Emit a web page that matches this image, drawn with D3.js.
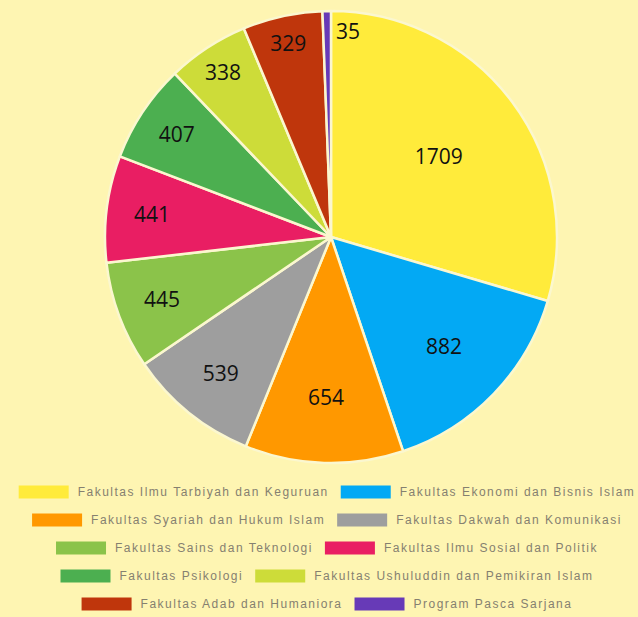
<!DOCTYPE html>
<html>
<head>
<meta charset="utf-8">
<script src="https://cdn.jsdelivr.net/npm/d3@7/dist/d3.min.js"></script>
<style>
  html, body { margin: 0; padding: 0; background: #fef5b2; }
  svg { display: block; }
</style>
</head>
<body>
<svg id="chart" width="638" height="617"></svg>
<script>
const categories = [
  "Fakultas Ilmu Tarbiyah dan Keguruan",
  "Fakultas Ekonomi dan Bisnis Islam",
  "Fakultas Syariah dan Hukum Islam",
  "Fakultas Dakwah dan Komunikasi",
  "Fakultas Sains dan Teknologi",
  "Fakultas Ilmu Sosial dan Politik",
  "Fakultas Psikologi",
  "Fakultas Ushuluddin dan Pemikiran Islam",
  "Fakultas Adab dan Humaniora",
  "Program Pasca Sarjana"
];
const values = [1709, 882, 654, 539, 445, 441, 407, 338, 329, 35];
const colors = ["#ffeb3b", "#03a9f4", "#ff9800", "#9e9e9e", "#8bc34a",
                "#e91e63", "#4caf50", "#cddc39", "#bf360c", "#673ab7"];

const W = 638, H = 617;
const cx = 331, cy = 237, R = 226;
const svg = d3.select("#chart");
svg.append("rect").attr("width", W).attr("height", H).attr("fill", "#fef5b2");

const data = categories.map((c, i) => ({ name: c, value: values[i], color: colors[i] }));
const pie = d3.pie().value(d => d.value).sort(null).startAngle(0).endAngle(2 * Math.PI);
const arcs = pie(data);
const arc = d3.arc().innerRadius(0).outerRadius(R);

const g = svg.append("g").attr("transform", `translate(${cx},${cy})`);
g.selectAll("path.slice").data(arcs).join("path")
  .attr("class", "slice")
  .attr("d", arc)
  .attr("fill", d => d.data.color)
  .attr("stroke", "#fbf7cf")
  .attr("stroke-width", 2.5)
  .attr("stroke-linejoin", "round");

// label distance depends on slice size (best-fit style placement)
const labelFrac = d3.scaleLinear()
  .domain([2, 20, 27, 34, 41, 55, 106])
  .range([0.91, 0.885, 0.80, 0.775, 0.71, 0.695, 0.595])
  .clamp(true);

g.selectAll("text.lbl").data(arcs).join("text")
  .attr("class", "lbl")
  .each(function(d) {
    const deg = (d.endAngle - d.startAngle) * 180 / Math.PI;
    const rr = labelFrac(deg) * R;
    const a = (d.startAngle + d.endAngle) / 2;
    const x = Math.sin(a) * rr, y = -Math.cos(a) * rr;
    const t = d3.select(this);
    if (deg < 5) {
      t.attr("x", x + 9).attr("y", y).attr("text-anchor", "start");
    } else {
      t.attr("x", x).attr("y", y).attr("text-anchor", "middle");
    }
  })
  .attr("dy", "0.36em")
  .attr("font-family", "'Open Sans', 'Noto Sans', sans-serif")
  .attr("font-size", 21)
  .attr("fill", "#111")
  .text(d => d.data.value);

// Legend: pairs per row, centred
const rowsY = [492, 520, 548, 576, 604];
const legend = svg.append("g");
const swW = 50, swH = 13, gapSw = 9, gapItem = 12, legCx = 327;
for (let r = 0; r < rowsY.length; r++) {
  const items = data.slice(r * 2, r * 2 + 2);
  const row = legend.append("g");
  let x = 0;
  items.forEach((it, k) => {
    row.append("rect").attr("x", x).attr("y", rowsY[r] - swH / 2)
      .attr("width", swW).attr("height", swH).attr("fill", it.color);
    const t = row.append("text")
      .attr("x", x + swW + gapSw).attr("y", rowsY[r]).attr("dy", "0.35em")
      .attr("font-family", "'Liberation Sans', Arial, sans-serif")
      .attr("font-size", 12)
      .attr("letter-spacing", "1.5px")
      .attr("fill", "#858070")
      .text(it.name);
    x += swW + gapSw + t.node().getComputedTextLength() + gapItem;
  });
  const total = x - gapItem;
  row.attr("transform", `translate(${legCx - total / 2},0)`);
}
</script>
</body>
</html>
